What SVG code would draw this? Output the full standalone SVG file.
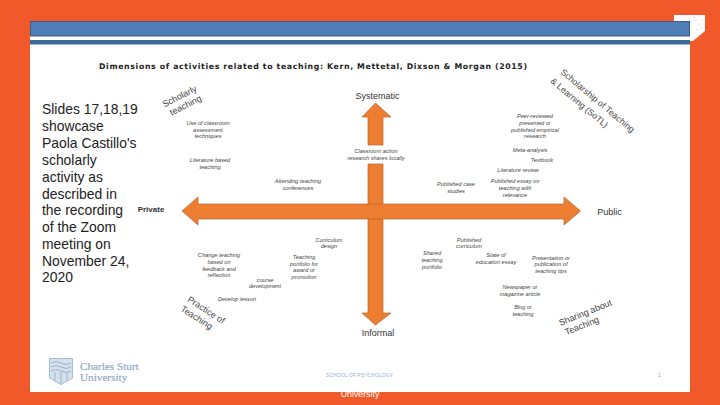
<svg xmlns="http://www.w3.org/2000/svg" width="720" height="405" viewBox="0 0 720 405">
<style>
text{font-family:"Liberation Sans",Arial,sans-serif;fill:#333}
.i{font-size:5.6px;font-style:italic;text-anchor:middle;fill:#444}
.a{font-size:9px;text-anchor:middle;fill:#333}
.r{font-size:9px;text-anchor:middle;fill:#444}
.l{font-size:13.9px;fill:#222}
.arrow{fill:#ED7D31;stroke:#B9652E;stroke-width:.7}
</style>
<rect width="720" height="405" fill="#F1592B"/>
<text x="360" y="396.500" font-size="8.800" text-anchor="middle" style="fill:#fff">University</text>
<g id="corner">
<path d="M674 15H705V31L693 41H674Z" fill="#fff"/>
<g fill="#777"><circle cx="696" cy="20" r=".4"/><circle cx="699" cy="24" r=".4"/><circle cx="695" cy="38" r=".4"/><circle cx="698" cy="35" r=".4"/><circle cx="701" cy="28" r=".4"/><circle cx="694" cy="17" r=".4"/><circle cx="702" cy="20" r=".4"/><circle cx="697" cy="30" r=".4"/></g>
</g>
<rect x="30" y="36" width="660" height="356" fill="#fff"/>
<rect x="30.500" y="21.500" width="659" height="14.500" fill="#4F7DB8" stroke="#3A5F85"/>
<rect x="30" y="40" width="660" height="4.500" fill="#3D6A96"/>
<text x="313" y="69" font-size="7.800" font-weight="bold" text-anchor="middle" textLength="428" lengthAdjust="spacing" style="font-family:'DejaVu Sans',sans-serif;fill:#222">Dimensions of activities related to teaching: Kern, Mettetal, Dixson &amp; Morgan (2015)</text>
<g id="note">
<text class="l" x="42" y="114">Slides 17,18,19</text>
<text class="l" x="42" y="131">showcase</text>
<text class="l" x="42" y="148">Paola Castillo's</text>
<text class="l" x="42" y="165">scholarly</text>
<text class="l" x="42" y="181.500">activity as</text>
<text class="l" x="42" y="198.500">described in</text>
<text class="l" x="42" y="215">the recording</text>
<text class="l" x="42" y="232">of the Zoom</text>
<text class="l" x="42" y="249">meeting on</text>
<text class="l" x="42" y="265.500">November 24,</text>
<text class="l" x="42" y="282">2020</text>
</g>
<g id="connectors">
<path class="arrow" d="M368 164H383V313H391L375.500 325L362 313H368Z"/>
<path class="arrow" d="M368 145V117H362L375.500 103L391 117H383V145Z"/>
<path class="arrow" d="M182 211L198 197V204H564V197L580.500 211L564 225V219H198V225Z"/>
</g>
<g id="axes">
<text class="a" x="377.500" y="98.500">Systematic</text>
<text class="a" x="378" y="336">Informal</text>
<text class="a" x="151" y="211.500" font-size="8" font-weight="bold" style="font-size:8px">Private</text>
<text class="a" x="609.500" y="214.500">Public</text>
</g>
<g id="quadrants">
<text class="r" transform="translate(181,99) rotate(-27)">Scholarly</text>
<text class="r" transform="translate(187,108) rotate(-27)">teaching</text>
<text class="r" transform="translate(560,73) rotate(40)" style="text-anchor:start;font-size:8.800px">Scholarship of Teaching</text>
<text class="r" transform="translate(550,82) rotate(40)" style="text-anchor:start;font-size:8.800px">&amp; Learning (SoTL)</text>
<text class="r" transform="translate(204.500,312.500) rotate(33)">Practice of</text>
<text class="r" transform="translate(195,320) rotate(33)">Teaching</text>
<text class="r" transform="translate(586.500,315.500) rotate(-22)">Sharing about</text>
<text class="r" transform="translate(583,328.500) rotate(-22)">Teaching</text>
</g>
<g id="activities">
<text class="i" x="208" y="125">Use of classroom</text><text class="i" x="208" y="131.500">assessment</text><text class="i" x="208" y="138">techniques</text>
<text class="i" x="210" y="162">Literature based</text><text class="i" x="210" y="168.500">teaching</text>
<text class="i" x="298" y="183">Attending teaching</text><text class="i" x="298" y="189.500">conferences</text>
<text class="i" x="376" y="153">Classroom action</text><text class="i" x="376" y="159.500">research shares locally</text>
<text class="i" x="535" y="118">Peer-reviewed</text><text class="i" x="535" y="125">presented or</text><text class="i" x="535" y="131.500">published empirical</text><text class="i" x="535" y="138">research</text>
<text class="i" x="530" y="152">Meta-analysis</text>
<text class="i" x="542" y="162">Textbook</text>
<text class="i" x="518" y="171.500">Literature review</text>
<text class="i" x="456" y="186">Published case</text><text class="i" x="456" y="193">studies</text>
<text class="i" x="515" y="183">Published essay on</text><text class="i" x="515" y="190">teaching with</text><text class="i" x="515" y="196.500">relevance</text>
<text class="i" x="219" y="257">Change teaching</text><text class="i" x="219" y="264">based on</text><text class="i" x="219" y="270.500">feedback and</text><text class="i" x="219" y="277">reflection</text>
<text class="i" x="329" y="241.500">Curriculum</text><text class="i" x="329" y="248">design</text>
<text class="i" x="304" y="259">Teaching</text><text class="i" x="304" y="265.500">portfolio for</text><text class="i" x="304" y="272">award or</text><text class="i" x="304" y="279">promotion</text>
<text class="i" x="265" y="282">course</text><text class="i" x="265" y="288">development</text>
<text class="i" x="237" y="301">Develop lesson</text>
<text class="i" x="469" y="241.500">Published</text><text class="i" x="469" y="248">curriculum</text>
<text class="i" x="432" y="255">Shared</text><text class="i" x="432" y="262">teaching</text><text class="i" x="432" y="268.500">portfolio</text>
<text class="i" x="496" y="257">State of</text><text class="i" x="496" y="263.500">education essay</text>
<text class="i" x="551" y="259.500">Presentation or</text><text class="i" x="551" y="266">publication of</text><text class="i" x="551" y="272.500">teaching tips</text>
<text class="i" x="520" y="289">Newspaper or</text><text class="i" x="520" y="295.500">magazine article</text>
<text class="i" x="523" y="309">Blog or</text><text class="i" x="523" y="315.500">teaching</text>
</g>
<g id="footer">
<path d="M49.500 358.500H72.500V378L61 384.500L49.500 378Z" fill="#D5E0EB" stroke="#A5BBD2"/>
<path d="M51 363Q56 360 61 363T71 363M51 367Q56 364 61 367T71 367M51 371Q56 368 61 371T71 371M55 372V381M61 372V383M67 372V381" stroke="#9DB5CE" stroke-width="1" fill="none"/>
<text x="80" y="369.500" font-size="11.200" style="font-family:'Liberation Serif',serif;fill:#92A9C2;stroke:#92A9C2;stroke-width:.2">Charles Sturt</text>
<text x="80" y="380.500" font-size="11.200" style="font-family:'Liberation Serif',serif;fill:#92A9C2;stroke:#92A9C2;stroke-width:.2">University</text>
<text x="326" y="377" font-size="5" textLength="67" style="fill:#93AFCF">SCHOOL OF PSYCHOLOGY</text>
<text x="658" y="376.500" font-size="5" style="fill:#999">1</text>
</g>
</svg>
